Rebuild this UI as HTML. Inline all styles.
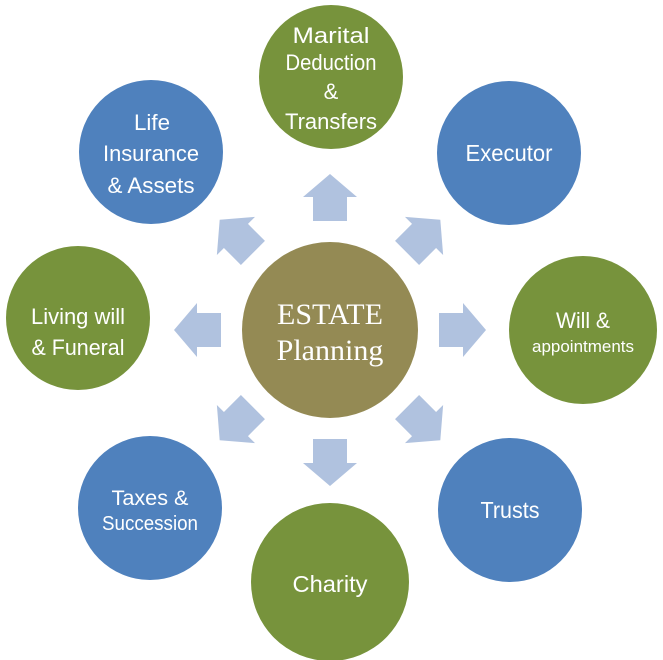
<!DOCTYPE html>
<html><head><meta charset="utf-8"><style>
html,body{margin:0;padding:0;background:#fff}
svg{display:block}
text{font-family:"Liberation Sans",sans-serif;fill:#fff;text-anchor:middle}
</style></head><body>
<svg width="663" height="660" viewBox="0 0 663 660" xmlns="http://www.w3.org/2000/svg">
<g fill="#B0C2DF">
<g id="a"><polygon points="313,221 347,221 347,197 357,197 330,174 303,197 313,197"/></g>
<use href="#a" transform="rotate(45 330 330)"/>
<use href="#a" transform="rotate(90 330 330)"/>
<use href="#a" transform="rotate(135 330 330)"/>
<use href="#a" transform="rotate(180 330 330)"/>
<use href="#a" transform="rotate(225 330 330)"/>
<use href="#a" transform="rotate(270 330 330)"/>
<use href="#a" transform="rotate(315 330 330)"/>
</g>
<circle cx="330" cy="330" r="88" fill="#948A54"/>
<text x="330" y="324" style="font-family:'Liberation Serif',serif;font-size:30px">ESTATE</text>
<text x="330" y="360" style="font-family:'Liberation Serif',serif;font-size:30px">Planning</text>

<circle cx="331" cy="77" r="72" fill="#77933C"/>
<text x="331" y="43" font-size="22" textLength="77" lengthAdjust="spacingAndGlyphs">Marital</text>
<text x="331" y="70" font-size="22" textLength="91" lengthAdjust="spacingAndGlyphs">Deduction</text>
<text x="331" y="99" font-size="22">&amp;</text>
<text x="331" y="129" font-size="22" textLength="92" lengthAdjust="spacingAndGlyphs">Transfers</text>

<circle cx="151" cy="152" r="72" fill="#4F81BD"/>
<text x="152" y="130" font-size="22" textLength="36" lengthAdjust="spacingAndGlyphs">Life</text>
<text x="151" y="161" font-size="22" textLength="96" lengthAdjust="spacingAndGlyphs">Insurance</text>
<text x="151" y="193" font-size="22" textLength="87" lengthAdjust="spacingAndGlyphs">&amp;  Assets</text>

<circle cx="509" cy="153" r="72" fill="#4F81BD"/>
<text x="509" y="161" font-size="23" textLength="87" lengthAdjust="spacingAndGlyphs">Executor</text>

<circle cx="78" cy="318" r="72" fill="#77933C"/>
<text x="78" y="324" font-size="22" textLength="94" lengthAdjust="spacingAndGlyphs">Living will</text>
<text x="78" y="355" font-size="22" textLength="93" lengthAdjust="spacingAndGlyphs">&amp; Funeral</text>

<circle cx="583" cy="330" r="74" fill="#77933C"/>
<text x="583" y="328" font-size="22" textLength="54" lengthAdjust="spacingAndGlyphs">Will &amp;</text>
<text x="583" y="352" font-size="17" textLength="102" lengthAdjust="spacingAndGlyphs">appointments</text>

<circle cx="150" cy="508" r="72" fill="#4F81BD"/>
<text x="150" y="505" font-size="21" textLength="77" lengthAdjust="spacingAndGlyphs">Taxes &amp;</text>
<text x="150" y="530" font-size="20" textLength="96" lengthAdjust="spacingAndGlyphs">Succession</text>

<circle cx="510" cy="510" r="72" fill="#4F81BD"/>
<text x="510" y="518" font-size="23" textLength="59" lengthAdjust="spacingAndGlyphs">Trusts</text>

<circle cx="330" cy="582" r="79" fill="#77933C"/>
<text x="330" y="592" font-size="23" textLength="75" lengthAdjust="spacingAndGlyphs">Charity</text>
</svg>
</body></html>
